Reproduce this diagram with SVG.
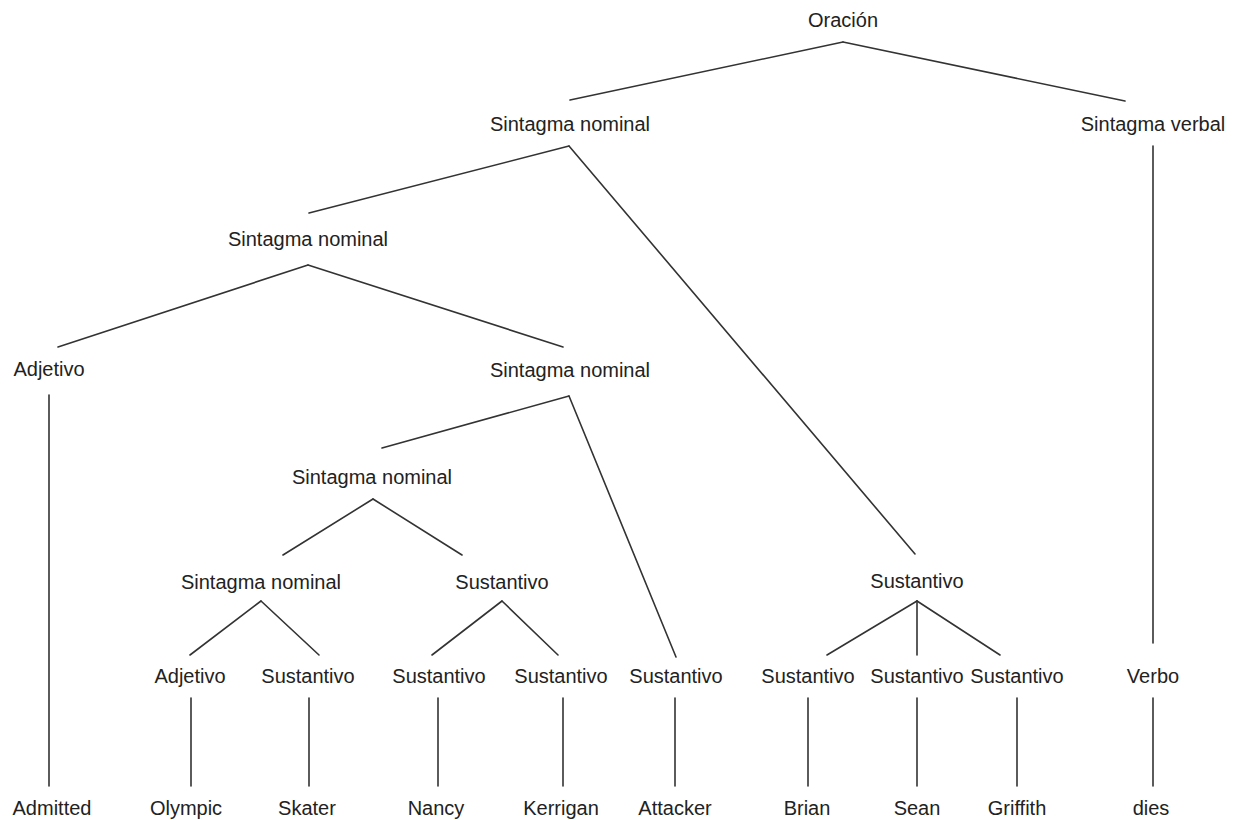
<svg xmlns="http://www.w3.org/2000/svg" width="1234" height="820" viewBox="0 0 1234 820">
<style>
  .lbl { font-family: "Liberation Sans", Arial, sans-serif; font-size: 20px; fill: #222; text-anchor: middle; }
  .edge { stroke: #333; stroke-width: 1.6; fill: none; stroke-linecap: round; }
</style>
<rect width="1234" height="820" fill="#fff"/>
<g id="connectors">
  <line class="edge" x1="570" y1="100" x2="843" y2="42"/>
  <line class="edge" x1="843" y1="42" x2="1125" y2="101"/>
  <line class="edge" x1="569" y1="146" x2="309" y2="213"/>
  <line class="edge" x1="569" y1="146" x2="915" y2="554"/>
  <line class="edge" x1="1153" y1="146" x2="1153" y2="643"/>
  <line class="edge" x1="308" y1="265" x2="58" y2="347"/>
  <line class="edge" x1="308" y1="265" x2="563" y2="347"/>
  <line class="edge" x1="49" y1="395" x2="49" y2="786"/>
  <line class="edge" x1="569" y1="396" x2="382" y2="448"/>
  <line class="edge" x1="569" y1="396" x2="676" y2="657"/>
  <line class="edge" x1="373" y1="499" x2="283" y2="555"/>
  <line class="edge" x1="373" y1="499" x2="462" y2="555"/>
  <line class="edge" x1="261" y1="601" x2="190" y2="655"/>
  <line class="edge" x1="261" y1="601" x2="319" y2="655"/>
  <line class="edge" x1="502" y1="601" x2="432" y2="655"/>
  <line class="edge" x1="502" y1="601" x2="558" y2="655"/>
  <line class="edge" x1="917" y1="601" x2="827" y2="655"/>
  <line class="edge" x1="917" y1="601" x2="917" y2="655"/>
  <line class="edge" x1="917" y1="601" x2="1000" y2="655"/>
  <line class="edge" x1="191" y1="698" x2="191" y2="786"/>
  <line class="edge" x1="309" y1="698" x2="309" y2="786"/>
  <line class="edge" x1="438" y1="698" x2="438" y2="786"/>
  <line class="edge" x1="563" y1="698" x2="563" y2="786"/>
  <line class="edge" x1="675" y1="698" x2="675" y2="786"/>
  <line class="edge" x1="808" y1="698" x2="808" y2="786"/>
  <line class="edge" x1="917" y1="698" x2="917" y2="786"/>
  <line class="edge" x1="1017" y1="698" x2="1017" y2="786"/>
  <line class="edge" x1="1153" y1="698" x2="1153" y2="786"/>
</g>
<g id="n-oracion"><text class="lbl" x="843" y="27">Oración</text></g>
<g id="n-sn1"><text class="lbl" x="570" y="131">Sintagma nominal</text></g>
<g id="n-sv"><text class="lbl" x="1153" y="131">Sintagma verbal</text></g>
<g id="n-sn2"><text class="lbl" x="308" y="246">Sintagma nominal</text></g>
<g id="n-adj1"><text class="lbl" x="49" y="376">Adjetivo</text></g>
<g id="n-sn3"><text class="lbl" x="570" y="377">Sintagma nominal</text></g>
<g id="n-sn4"><text class="lbl" x="372" y="484">Sintagma nominal</text></g>
<g id="n-sn5"><text class="lbl" x="261" y="589">Sintagma nominal</text></g>
<g id="n-sus5a"><text class="lbl" x="502" y="589">Sustantivo</text></g>
<g id="n-sus5b"><text class="lbl" x="917" y="588">Sustantivo</text></g>
<g id="n-adj2"><text class="lbl" x="190" y="683">Adjetivo</text></g>
<g id="n-sus6a"><text class="lbl" x="308" y="683">Sustantivo</text></g>
<g id="n-sus6b"><text class="lbl" x="439" y="683">Sustantivo</text></g>
<g id="n-sus6c"><text class="lbl" x="561" y="683">Sustantivo</text></g>
<g id="n-sus6d"><text class="lbl" x="676" y="683">Sustantivo</text></g>
<g id="n-sus6e"><text class="lbl" x="808" y="683">Sustantivo</text></g>
<g id="n-sus6f"><text class="lbl" x="917" y="683">Sustantivo</text></g>
<g id="n-sus6g"><text class="lbl" x="1017" y="683">Sustantivo</text></g>
<g id="n-verbo"><text class="lbl" x="1153" y="683">Verbo</text></g>
<g id="w-admitted"><text class="lbl" x="52" y="815">Admitted</text></g>
<g id="w-olympic"><text class="lbl" x="186" y="815">Olympic</text></g>
<g id="w-skater"><text class="lbl" x="307" y="815">Skater</text></g>
<g id="w-nancy"><text class="lbl" x="436" y="815">Nancy</text></g>
<g id="w-kerrigan"><text class="lbl" x="561" y="815">Kerrigan</text></g>
<g id="w-attacker"><text class="lbl" x="675" y="815">Attacker</text></g>
<g id="w-brian"><text class="lbl" x="807" y="815">Brian</text></g>
<g id="w-sean"><text class="lbl" x="917" y="815">Sean</text></g>
<g id="w-griffith"><text class="lbl" x="1017" y="815">Griffith</text></g>
<g id="w-dies"><text class="lbl" x="1151" y="815">dies</text></g>
</svg>
